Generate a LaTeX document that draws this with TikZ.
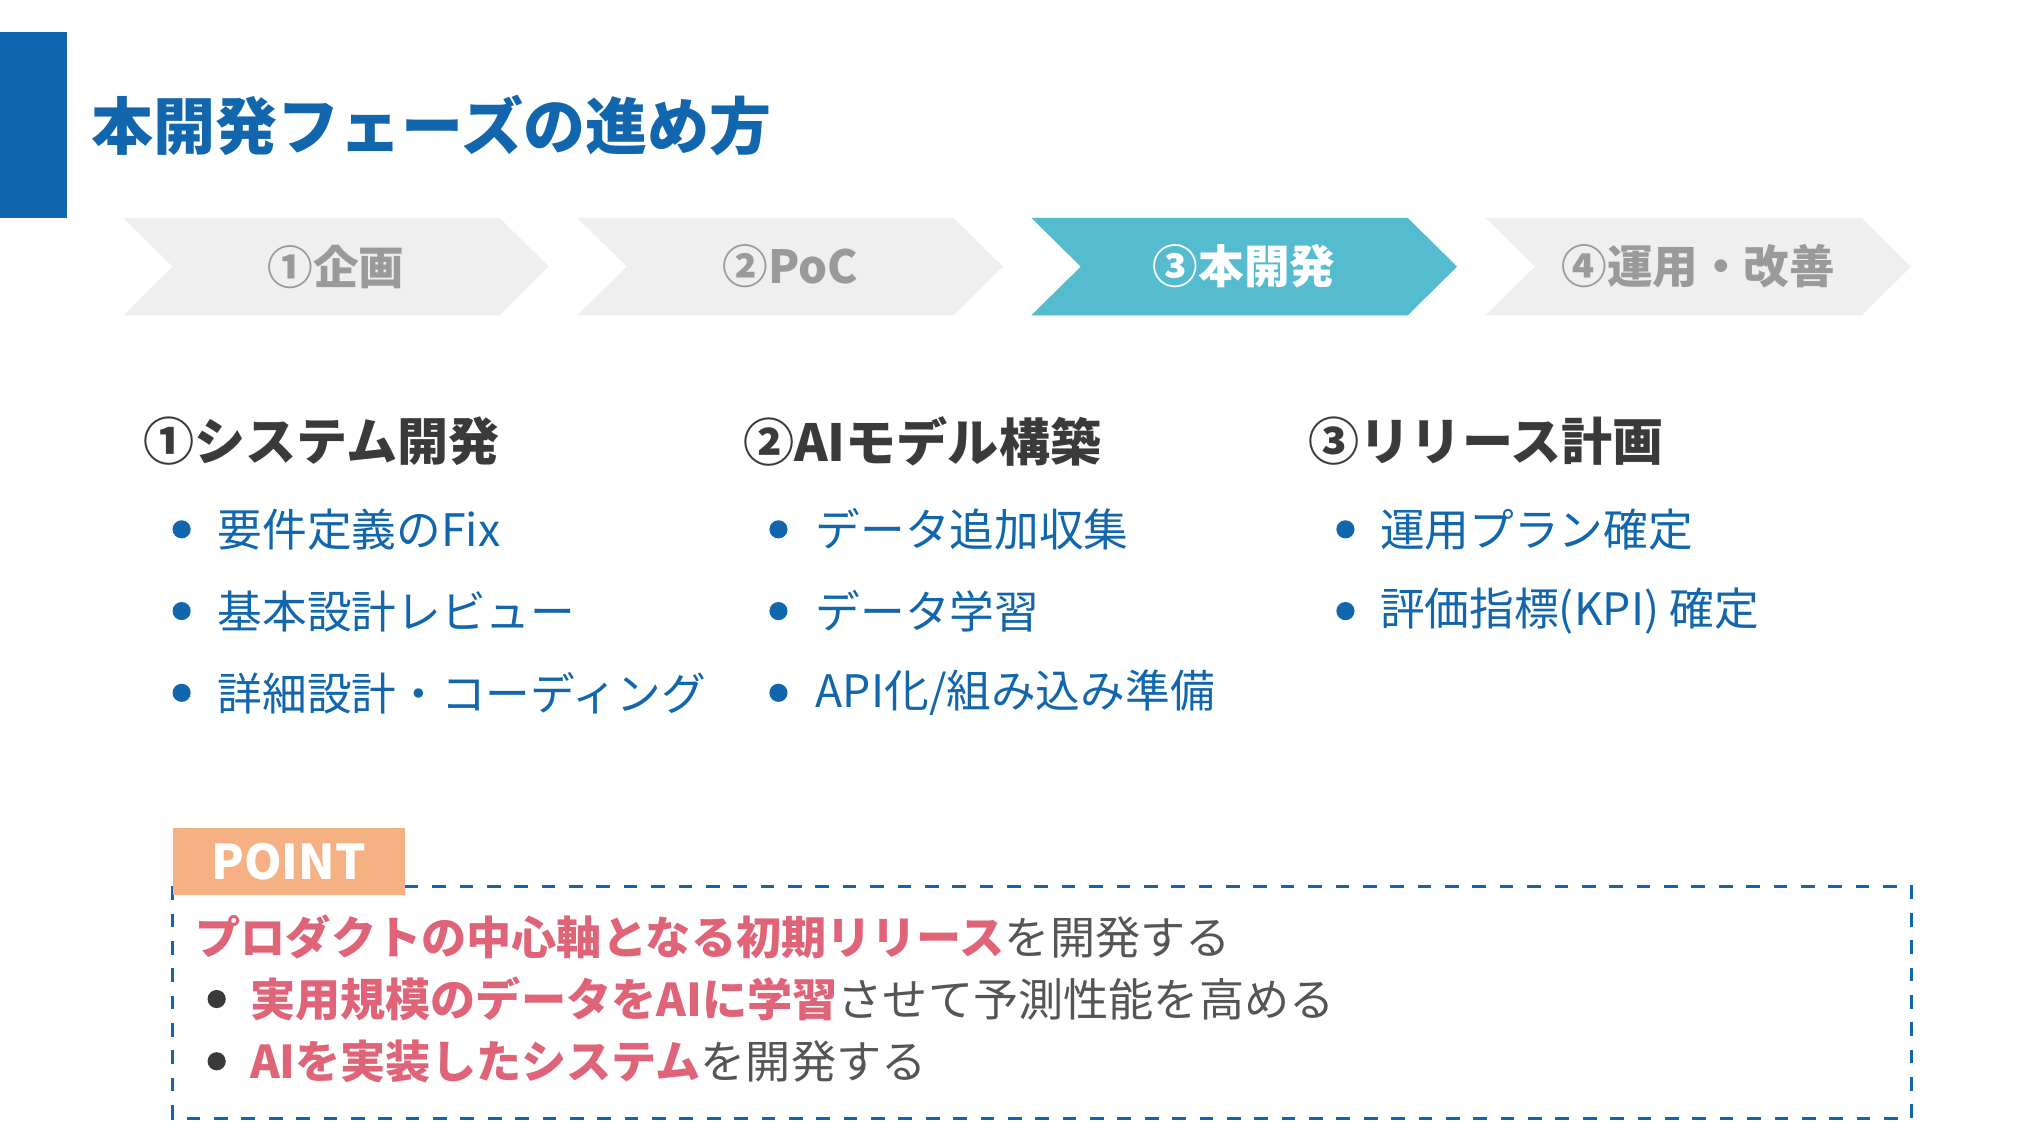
\documentclass[tikz,border=0pt]{standalone}
\usepackage{fontspec}
\setmainfont{Noto Sans CJK JP}
\usetikzlibrary{positioning}
\definecolor{mainblue}{HTML}{1166AD}
\definecolor{phasegray}{HTML}{EFEFEF}
\definecolor{phasetext}{HTML}{9A9A9A}
\definecolor{phasecyan}{HTML}{55BCD0}
\definecolor{pointorange}{HTML}{F5B183}
\definecolor{accentpink}{HTML}{E06478}
\definecolor{darktext}{HTML}{3A3A3A}
\definecolor{greytext}{HTML}{555555}
\tikzset{
  phase/.style={fill=phasegray},
  phaselabel/.style={font=\fontsize{10}{12}\selectfont\bfseries, text=phasetext},
  colhead/.style={anchor=west, font=\fontsize{11.2}{13}\selectfont\bfseries, text=darktext, inner sep=0pt},
  item/.style={anchor=west, font=\fontsize{9.8}{12}\selectfont, text=mainblue, inner sep=0pt},
  dot/.style={circle, fill=mainblue, minimum size=0.14cm, inner sep=0pt},
  pointline/.style={anchor=west, font=\fontsize{9.9}{12}\selectfont, text=greytext, inner sep=0pt},
  greydot/.style={circle, fill=darktext, minimum size=0.14cm, inner sep=0pt}
}
\newcommand{\hlt}[1]{{\bfseries\color{accentpink}#1}}
\begin{document}
\begin{tikzpicture}[x=0.01cm, y=-0.01cm]
    \useasboundingbox (0,0) rectangle (1560,877);
    % Title
    \fill[mainblue] (0,25) rectangle (52,168);
    \node[anchor=west, inner sep=0pt, font=\fontsize{13.6}{16}\selectfont\bfseries, text=mainblue] (title) at (70,97) {本開発フェーズの進め方};

    % Phases
    \foreach \x/\name/\txt in {95/p1/①企画, 445/p2/②PoC, 795/p3/③本開発, 1145/p4/④運用・改善} {
        \fill[phase] (\x,168) -- (\x+290,168) -- (\x+328,205.5) -- (\x+290,243) -- (\x,243) -- (\x+38,205.5) -- cycle;
        \node[phaselabel] (\name) at (\x+164,205.5) {\txt};
    }
    \fill[phasecyan] (795,168) -- (1085,168) -- (1123,205.5) -- (1085,243) -- (795,243) -- (833,205.5) -- cycle;
    \node[phaselabel, text=white] (p3a) at (959,205.5) {③本開発};

    % Columns
    \node[colhead] (h1) at (110,340) {①システム開発};
    \node[colhead] (h2) at (572,340) {②AIモデル構築};
    \node[colhead] (h3) at (1008,340) {③リリース計画};

    \foreach \y/\txt [count=\i] in {408/要件定義のFix, 471/基本設計レビュー, 534/詳細設計・コーディング} {
        \node[dot] (d1\i) at (140,\y) {};
        \node[item] (a\i) at (167,\y) {\txt};
    }
    \foreach \y/\txt [count=\i] in {408/データ追加収集, 471/データ学習, 534/{API化/組み込み準備}} {
        \node[dot] (d2\i) at (600,\y) {};
        \node[item] (b\i) at (628,\y) {\txt};
    }
    \foreach \y/\txt [count=\i] in {408/運用プラン確定, 471/評価指標(KPI) 確定} {
        \node[dot] (d3\i) at (1037,\y) {};
        \node[item] (c\i) at (1063,\y) {\txt};
    }

    % Point box
    \draw[mainblue, dashed, semithick] (133,683) rectangle (1473,862);
    \fill[pointorange] (133,638) rectangle (312,690);
    \node[font=\fontsize{10.5}{12}\selectfont\bfseries, text=white] (point) at (222.5,664) {POINT};
    \node[pointline] (l1) at (150,722) {\hlt{プロダクトの中心軸となる初期リリース}を開発する};
    \node[greydot] (g1) at (167,770) {};
    \node[pointline] (l2) at (192,770) {\hlt{実用規模のデータをAIに学習}させて予測性能を高める};
    \node[greydot] (g2) at (167,818) {};
    \node[pointline] (l3) at (192,818) {\hlt{AIを実装したシステム}を開発する};
\end{tikzpicture}
\end{document}
